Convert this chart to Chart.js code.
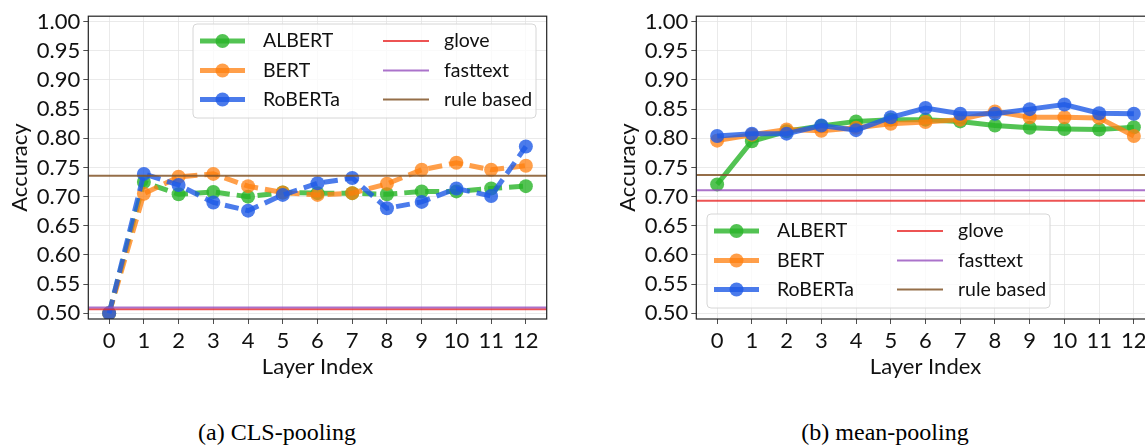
<!DOCTYPE html>
<html>
<head>
<meta charset="utf-8">
<script src="https://cdn.jsdelivr.net/npm/chart.js@4.4.1/dist/chart.umd.min.js"></script>
<style>
  html, body { margin: 0; padding: 0; background: #fff; overflow: hidden; }
  body { width: 1145px; height: 447px; position: relative; }
  .panel { position: absolute; top: 0; width: 570px; height: 380px; }
  .cap {
    position: absolute; top: 420px; line-height: 24px;
    font-family: "Liberation Serif", "Times New Roman", serif;
    font-size: 24px; color: #000; white-space: nowrap;
    transform: translateX(-50%);
  }
</style>
</head>
<body>
<div class="panel" style="left:0"><canvas id="chartCls" width="570" height="380"></canvas></div>
<div class="panel" style="left:608px"><canvas id="chartMean" width="570" height="380"></canvas></div>
<div class="cap" style="left:277px">(a) CLS-pooling</div>
<div class="cap" style="left:885px">(b) mean-pooling</div>
<script>
// layer index on x, accuracy on y
const layers = [0, 1, 2, 3, 4, 5, 6, 7, 8, 9, 10, 11, 12];
const yTicks = [0.50, 0.55, 0.60, 0.65, 0.70, 0.75, 0.80, 0.85, 0.90, 0.95, 1.00];

// (a) CLS-pooling
const clsAlbert  = [0.500, 0.725, 0.704, 0.708, 0.700, 0.707, 0.706, 0.706, 0.704, 0.709, 0.709, 0.714, 0.718];
const clsBert    = [0.500, 0.705, 0.734, 0.739, 0.718, 0.707, 0.703, 0.706, 0.722, 0.746, 0.758, 0.746, 0.753];
const clsRoberta = [0.500, 0.739, 0.720, 0.690, 0.676, 0.703, 0.723, 0.732, 0.680, 0.691, 0.714, 0.701, 0.786];
const clsGlove = 0.507;
const clsFasttext = 0.510;
const clsRule = 0.736;

// (b) mean-pooling
const meanAlbert  = [0.721, 0.795, 0.812, 0.821, 0.829, 0.832, 0.832, 0.829, 0.822, 0.818, 0.816, 0.815, 0.819];
const meanBert    = [0.796, 0.806, 0.815, 0.813, 0.818, 0.825, 0.828, 0.832, 0.846, 0.836, 0.836, 0.835, 0.804];
const meanRoberta = [0.804, 0.808, 0.808, 0.822, 0.814, 0.836, 0.852, 0.842, 0.842, 0.850, 0.858, 0.843, 0.842];
const meanGlove = 0.693;
const meanFasttext = 0.711;
const meanRule = 0.737;

const X_MIN = -0.6, X_MAX = 12.6;
const Y_MIN = 0.4903, Y_MAX = 1.0093;

const FONT = 'Lato, "Noto Sans", sans-serif';
const C = {
  albert: "rgba(40,180,40,0.8)",
  bert: "rgba(255,127,14,0.75)",
  roberta: "rgba(30,90,230,0.8)",
  glove: "rgba(232,40,40,0.8)",
  fasttext: "rgba(150,80,190,0.8)",
  rule: "rgba(130,85,40,0.85)",
};

// full frame around the plot area
const framePlugin = {
  id: "frame",
  afterDraw(chart) {
    const { ctx, chartArea: a } = chart;
    ctx.save();
    ctx.strokeStyle = "#222";
    ctx.lineWidth = 1.2;
    ctx.strokeRect(a.left, a.top, a.right - a.left, a.bottom - a.top);
    ctx.restore();
  },
};

// matplotlib style legend box inside the plot
const boxLegendPlugin = {
  id: "boxLegend",
  afterDraw(chart, args, opts) {
    const { ctx } = chart;
    const ds = chart.data.datasets;
    const { x, y, w, h } = opts;
    const rows = [17, 46.5, 75.5];
    ctx.save();
    ctx.beginPath();
    ctx.roundRect(x, y, w, h, 4);
    ctx.fillStyle = "rgba(255,255,255,0.8)";
    ctx.fill();
    ctx.strokeStyle = "#d6d6d6";
    ctx.lineWidth = 1;
    ctx.stroke();
    ctx.font = "19.5px " + FONT;
    ctx.textBaseline = "middle";
    ds.forEach((d, i) => {
      const ry = y + rows[i % 3];
      ctx.setLineDash([]);
      ctx.strokeStyle = d.borderColor;
      if (i < 3) {
        ctx.lineWidth = 5;
        ctx.beginPath();
        ctx.moveTo(x + 7, ry);
        ctx.lineTo(x + 52, ry);
        ctx.stroke();
        ctx.fillStyle = d.borderColor;
        ctx.beginPath();
        ctx.arc(x + 29.5, ry, 7, 0, Math.PI * 2);
        ctx.fill();
        ctx.fillStyle = "#111";
        ctx.fillText(d.label, x + 70, ry);
      } else {
        ctx.lineWidth = 2;
        ctx.beginPath();
        ctx.moveTo(x + 190, ry);
        ctx.lineTo(x + 236, ry);
        ctx.stroke();
        ctx.fillStyle = "#111";
        ctx.fillText(d.label, x + 251, ry);
      }
    });
    ctx.restore();
  },
};

function series(label, vals, color, dashed, order) {
  return {
    label,
    data: layers.map((l, i) => ({ x: l, y: vals[i] })),
    borderColor: color,
    backgroundColor: color,
    borderWidth: 5,
    borderDash: dashed ? [14, 7] : [],
    pointRadius: 7,
    pointBorderWidth: 0,
    pointBackgroundColor: color,
    tension: 0,
    order,
  };
}

function baseline(label, v, color, order) {
  return {
    label,
    data: [{ x: X_MIN, y: v }, { x: X_MAX, y: v }],
    borderColor: color,
    backgroundColor: color,
    borderWidth: 2,
    pointRadius: 0,
    order,
  };
}

function makeChart(el, albert, bert, roberta, glove, fasttext, rule, legendBox, dashed) {
  return new Chart(el, {
    type: "line",
    data: {
      datasets: [
        series("ALBERT", albert, C.albert, dashed, 5),
        series("BERT", bert, C.bert, dashed, 4),
        series("RoBERTa", roberta, C.roberta, dashed, 3),
        baseline("glove", glove, C.glove, 2),
        baseline("fasttext", fasttext, C.fasttext, 1),
        baseline("rule based", rule, C.rule, 0),
      ],
    },
    plugins: [framePlugin, boxLegendPlugin],
    options: {
      responsive: false,
      animation: false,
      devicePixelRatio: 1,
      layout: { padding: { top: 14, right: 23.3, left: 0, bottom: 0 } },
      plugins: {
        legend: { display: false },
        tooltip: { enabled: false },
        boxLegend: legendBox,
      },
      scales: {
        x: {
          type: "linear",
          min: X_MIN,
          max: X_MAX,
          afterBuildTicks: (s) => { s.ticks = layers.map((v) => ({ value: v })); },
          afterFit: (s) => { s.height = 61; },
          grid: { color: "#e4e4e4", lineWidth: 0.8, tickLength: 5, tickColor: "#222" },
          border: { display: false },
          ticks: { color: "#111", font: { family: FONT, size: 22 }, padding: 4, maxRotation: 0 },
          title: {
            display: true, text: "Layer Index", color: "#111",
            font: { family: FONT, size: 22 }, padding: { top: 0, bottom: 0 },
          },
        },
        y: {
          min: Y_MIN,
          max: Y_MAX,
          afterBuildTicks: (s) => { s.ticks = yTicks.map((v) => ({ value: v })); },
          afterFit: (s) => { s.width = 88.3; },
          grid: { color: "#e4e4e4", lineWidth: 0.8, tickLength: 5, tickColor: "#222" },
          border: { display: false },
          ticks: {
            color: "#111", font: { family: FONT, size: 22 }, padding: 3,
            callback: (v) => v.toFixed(2),
          },
          title: {
            display: true, text: "Accuracy", color: "#111",
            font: { family: FONT, size: 22 }, padding: { top: 7, bottom: 0 },
          },
        },
      },
    },
  });
}

makeChart(document.getElementById("chartCls"),
  clsAlbert, clsBert, clsRoberta, clsGlove, clsFasttext, clsRule,
  { x: 193, y: 24, w: 343, h: 94 }, true);

makeChart(document.getElementById("chartMean"),
  meanAlbert, meanBert, meanRoberta, meanGlove, meanFasttext, meanRule,
  { x: 99, y: 214, w: 343, h: 94 }, false);
</script>
</body>
</html>
